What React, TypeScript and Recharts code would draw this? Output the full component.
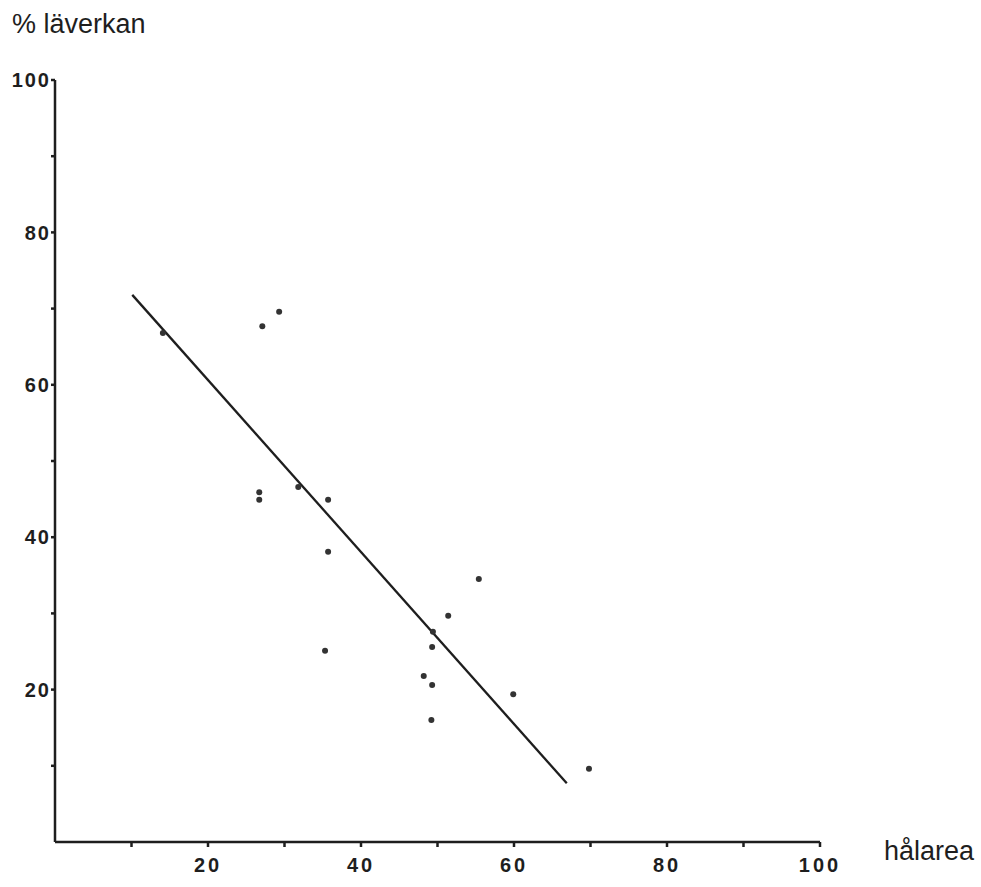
import { ScatterChart, Scatter, XAxis, YAxis } from "recharts"

// measured points (hålarea, % läverkan)
const holeArea = [14.1, 27.1, 29.3, 26.7, 26.7, 31.8, 35.7, 35.7, 55.4, 51.4, 49.4, 49.3, 35.3, 48.2, 49.3, 59.9, 49.2, 69.8]
const effect = [66.8, 67.7, 69.6, 45.9, 44.9, 46.6, 44.9, 38.1, 34.5, 29.7, 27.6, 25.6, 25.1, 21.8, 20.6, 19.4, 16.0, 9.6]

// fitted line endpoints
const fitX = [10.1, 66.9]
const fitY = [71.8, 7.7]

const xTicks = [10, 20, 30, 40, 50, 60, 70, 80, 90, 100]
const xTickLabels = ["", "20", "", "40", "", "60", "", "80", "", "100"]
const yTicks = [10, 20, 30, 40, 50, 60, 70, 80, 90, 100]
const yTickLabels = ["", "20", "", "40", "", "60", "", "80", "", "100"]

const points = holeArea.map((x, i) => ({ x, y: effect[i] }))
const fitLine = fitX.map((x, i) => ({ x, y: fitY[i] }))

const ink = "#1e1e1e"
const font = "'Liberation Sans', Arial, sans-serif"

const Dot = (props: any) => {
  const { cx, cy } = props
  return <circle cx={cx} cy={cy} r={3} fill="#333" />
}

export default function App() {
  return (
    <div style={{ position: "absolute", left: 0, top: 0, width: 981, height: 887, background: "#fff", fontFamily: font }}>
      <div style={{ position: "absolute", left: 12, top: 9, fontSize: 27, color: ink }}>% läverkan</div>
      <div style={{ position: "absolute", left: 884, top: 836, fontSize: 27, color: ink }}>hålarea</div>
      <ScatterChart width={981} height={887} margin={{ top: 80, right: 161, bottom: 3, left: 0 }}>
        <XAxis
          type="number"
          dataKey="x"
          domain={[0, 100]}
          ticks={xTicks}
          tickFormatter={(v: number) => xTickLabels[xTicks.indexOf(v)] ?? ""}
          stroke={ink}
          strokeWidth={2.5}
          tickSize={5}
          tickMargin={11}
          height={42}
          tick={{ fill: ink, fontSize: 20, fontWeight: 700, letterSpacing: 3, fontFamily: font }}
        />
        <YAxis
          type="number"
          dataKey="y"
          domain={[0, 100]}
          ticks={yTicks}
          tickFormatter={(v: number) => yTickLabels[yTicks.indexOf(v)] ?? ""}
          stroke={ink}
          strokeWidth={2.5}
          tickSize={4}
          tickMargin={0}
          width={55}
          tick={{ fill: ink, fontSize: 20, fontWeight: 700, letterSpacing: 2, fontFamily: font }}
        />
        <Scatter data={fitLine} line={{ stroke: ink, strokeWidth: 2.3 }} shape={() => null} isAnimationActive={false} />
        <Scatter data={points} shape={Dot} isAnimationActive={false} />
      </ScatterChart>
    </div>
  )
}
